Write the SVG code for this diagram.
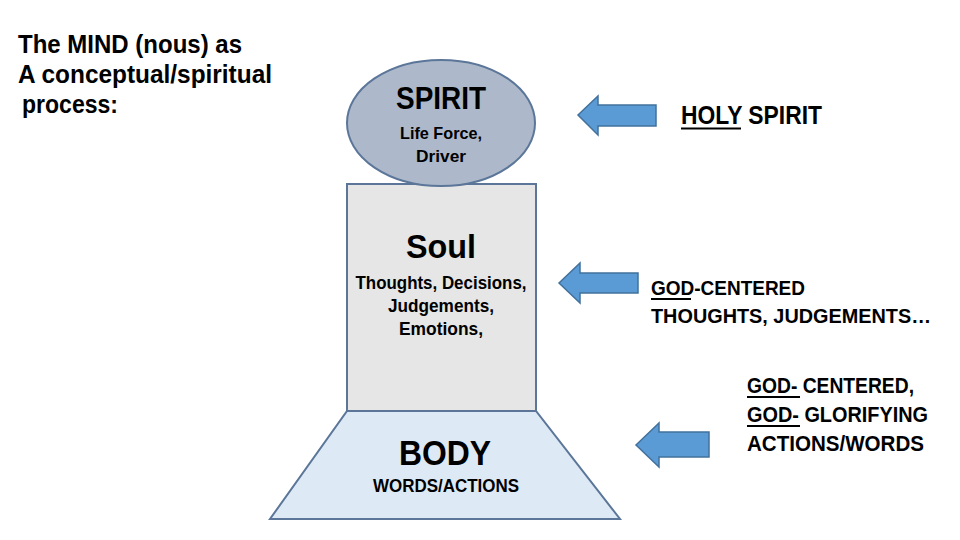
<svg xmlns="http://www.w3.org/2000/svg" width="960" height="540" viewBox="0 0 960 540">
<style>
text{font-family:"Liberation Sans","Arial",sans-serif;font-weight:bold;fill:#000}
.mid{text-anchor:middle}
.shape{stroke:#5b7699;stroke-width:2}
.arrow{fill:#5b9bd5;stroke:#41719c;stroke-width:1.5}
.ul{stroke:#000;stroke-width:2}
</style>
<rect width="960" height="540" fill="#fff"/>
<g id="title">
<text x="18" y="53" font-size="26" textLength="224" lengthAdjust="spacingAndGlyphs">The MIND (nous) as</text>
<text x="18" y="83" font-size="26" textLength="254" lengthAdjust="spacingAndGlyphs">A conceptual/spiritual</text>
<text x="22" y="113" font-size="26" textLength="96" lengthAdjust="spacingAndGlyphs">process:</text>
</g>
<g id="soul">
<rect class="shape" x="347" y="184" width="189" height="227" fill="#e6e6e6"/>
<text class="mid" x="441" y="258" font-size="33" textLength="70" lengthAdjust="spacingAndGlyphs">Soul</text>
<text class="mid" x="441" y="289" font-size="18" textLength="171" lengthAdjust="spacingAndGlyphs">Thoughts, Decisions,</text>
<text class="mid" x="441" y="312" font-size="18" textLength="106" lengthAdjust="spacingAndGlyphs">Judgements,</text>
<text class="mid" x="441" y="335" font-size="18" textLength="84" lengthAdjust="spacingAndGlyphs">Emotions,</text>
</g>
<g id="spirit">
<ellipse class="shape" cx="441" cy="123" rx="94" ry="63" fill="#adb9ca"/>
<text class="mid" x="441" y="109" font-size="31" textLength="90" lengthAdjust="spacingAndGlyphs">SPIRIT</text>
<text class="mid" x="441" y="139" font-size="17" textLength="82" lengthAdjust="spacingAndGlyphs">Life Force,</text>
<text class="mid" x="441" y="162" font-size="17" textLength="50" lengthAdjust="spacingAndGlyphs">Driver</text>
</g>
<g id="body">
<polygon class="shape" points="347,411 536,411 620,519 270,519" fill="#dee9f6"/>
<text class="mid" x="445" y="465" font-size="35" textLength="92" lengthAdjust="spacingAndGlyphs">BODY</text>
<text class="mid" x="446" y="492" font-size="18" textLength="146" lengthAdjust="spacingAndGlyphs">WORDS/ACTIONS</text>
</g>
<g id="connectors">
<polygon class="arrow" points="578,115 598,96 598,105 656,105 656,126 598,126 598,135"/>
<polygon class="arrow" points="559,283 580,263 580,273 638,273 638,293 580,293 580,303"/>
<polygon class="arrow" points="636,445 659,423 659,432 709,432 709,457 659,457 659,467"/>
</g>
<g id="label-holy-spirit">
<text x="681" y="124" font-size="25" textLength="141" lengthAdjust="spacingAndGlyphs">HOLY SPIRIT</text>
<line class="ul" x1="681" y1="128.5" x2="741" y2="128.5"/>
</g>
<g id="label-god-centered">
<text x="651" y="295" font-size="21" textLength="154" lengthAdjust="spacingAndGlyphs">GOD-CENTERED</text>
<text x="651" y="323" font-size="21" textLength="280" lengthAdjust="spacingAndGlyphs">THOUGHTS, JUDGEMENTS…</text>
<line class="ul" x1="651" y1="299" x2="691" y2="299"/>
</g>
<g id="label-god-glorifying">
<text x="747" y="393" font-size="22" textLength="167" lengthAdjust="spacingAndGlyphs">GOD- CENTERED,</text>
<text x="747" y="422" font-size="22" textLength="181" lengthAdjust="spacingAndGlyphs">GOD- GLORIFYING</text>
<text x="747" y="451" font-size="22" textLength="177" lengthAdjust="spacingAndGlyphs">ACTIONS/WORDS</text>
<line class="ul" x1="747" y1="397" x2="800" y2="397"/>
<line class="ul" x1="747" y1="426" x2="800" y2="426"/>
</g>
</svg>
